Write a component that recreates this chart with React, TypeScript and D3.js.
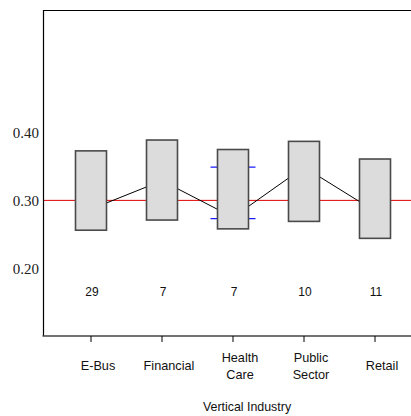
import * as d3 from "d3";

const categories = ["E-Bus", "Financial", "Health Care", "Public Sector", "Retail"];
const boxHigh = [0.373, 0.389, 0.375, 0.387, 0.361];
const boxLow = [0.256, 0.271, 0.258, 0.269, 0.244];
const means = [0.287, 0.329, 0.275, 0.349, 0.284];
const counts = [29, 7, 7, 10, 11];
// limits only shown for Health Care
const limitCategory = "Health Care";
const limits = [0.273, 0.349];
const refValue = 0.3;
const yTicks = [0.2, 0.3, 0.4];

const W = 411;
const H = 416;
const left = 43.5;
const top = 10.5;
const bottom = 336;

export default function App() {
  const y = d3.scaleLinear().domain([0.1, 0.58]).range([bottom, top]);
  const x = d3.scalePoint<string>().domain(categories).range([91, 375]);
  const boxW = 31;

  const meanLine = d3
    .line<number>()
    .x((_, i) => x(categories[i])!)
    .y((d) => y(d));

  const sans = "'Liberation Sans', Arial, sans-serif";

  return (
    <svg
      width={W}
      height={H}
      style={{ position: "absolute", left: 0, top: 0, background: "#fff" }}
    >
      {/* reference line */}
      <line x1={left} x2={W} y1={y(refValue)} y2={y(refValue)} stroke="#e00000" strokeWidth={1} />
      {/* mean line */}
      <path d={meanLine(means) || ""} fill="none" stroke="#000" strokeWidth={1} />
      {/* limit ticks */}
      {limits.map((v, i) => (
        <line
          key={"lim" + i}
          x1={x(limitCategory)! - boxW / 2 - 7}
          x2={x(limitCategory)! + boxW / 2 + 7}
          y1={y(v)}
          y2={y(v)}
          stroke="#1a1aff"
          strokeWidth={1.3}
        />
      ))}
      {/* boxes */}
      {categories.map((c, i) => (
        <rect
          key={c}
          x={x(c)! - boxW / 2}
          width={boxW}
          y={y(boxHigh[i])}
          height={y(boxLow[i]) - y(boxHigh[i])}
          fill="#dcdcdc"
          stroke="#4a4a4a"
          strokeWidth={1.6}
        />
      ))}
      {/* frame */}
      <line x1={left} x2={left} y1={top - 0.5} y2={bottom} stroke="#000" strokeWidth={1.2} />
      <line x1={left} x2={W} y1={top} y2={top} stroke="#000" strokeWidth={1.2} />
      <line x1={left - 1} x2={W} y1={bottom} y2={bottom} stroke="#444" strokeWidth={1.5} />
      {categories.map((c) => (
        <line key={"t" + c} x1={x(c)} x2={x(c)} y1={bottom} y2={bottom + 6} stroke="#000" strokeWidth={1} />
      ))}
      {/* y labels */}
      {yTicks.map((t) => (
        <text
          key={t}
          x={39}
          y={y(t) + 2}
          textAnchor="end"
          dominantBaseline="middle"
          fontFamily="'Liberation Serif', 'Times New Roman', serif"
          fontSize={15}
          fill="#222"
        >
          {d3.format(".2f")(t)}
        </text>
      ))}
      {/* counts */}
      {categories.map((c, i) => (
        <text
          key={"n" + c}
          x={x(c)! + 1}
          y={293}
          textAnchor="middle"
          dominantBaseline="middle"
          fontFamily={sans}
          fontSize={12}
          fill="#111"
        >
          {counts[i]}
        </text>
      ))}
      {/* category labels */}
      {categories.map((c) => {
        const words = c.split(" ");
        const lh = 17;
        const y0 = 367 - ((words.length - 1) * lh) / 2;
        return (
          <text
            key={"l" + c}
            x={x(c)! + 7}
            textAnchor="middle"
            fontFamily={sans}
            fontSize={12.7}
            fill="#111"
          >
            {words.map((w, k) => (
              <tspan key={k} x={x(c)! + 7} y={y0 + k * lh} dominantBaseline="middle">
                {w}
              </tspan>
            ))}
          </text>
        );
      })}
      <text
        x={247}
        y={408}
        textAnchor="middle"
        dominantBaseline="middle"
        fontFamily={sans}
        fontSize={12.4}
        fill="#111"
      >
        Vertical Industry
      </text>
    </svg>
  );
}
